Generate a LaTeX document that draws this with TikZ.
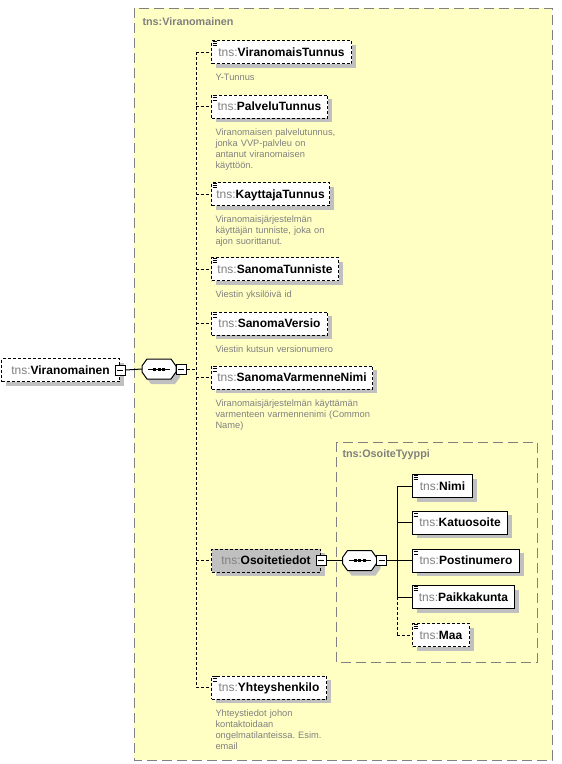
\documentclass[tikz,border=0pt]{standalone}
\usepackage{fontspec}
\setmainfont{Liberation Sans}
\usetikzlibrary{shadows}
\frenchspacing
\definecolor{boxyellow}{HTML}{FFFFC4}
\definecolor{tnsgray}{HTML}{808080}
\definecolor{descgray}{HTML}{808080}
\definecolor{shadowgray}{HTML}{C0C0C0}
\definecolor{framegray}{HTML}{808080}
\definecolor{complexfill}{HTML}{C0C0C0}
\newcommand{\tns}[1]{{\color{tnsgray}tns:}\textbf{#1}}
\newcommand{\seqnode}[3]{%
  \node[minimum width=34pt, minimum height=20pt, inner sep=0pt, outer sep=0pt] (#1) at (#2,#3) {};
  \begin{scope}[shift={(#2,#3)}]
    \fill[shadowgray, shift={(4,5)}] (-12,-10) -- (12,-10) -- (17,-3) -- (17,3) -- (12,10) -- (-12,10) -- (-17,3) -- (-17,-3) -- cycle;
    \draw[fill=white] (-12,-10) -- (12,-10) -- (17,-3) -- (17,3) -- (12,10) -- (-12,10) -- (-17,3) -- (-17,-3) -- cycle;
    \draw (-11,0) -- (11,0);
    \fill (-6,-1.5) rectangle (-3,1.5);
    \fill (-1.5,-1.5) rectangle (1.5,1.5);
    \fill (3,-1.5) rectangle (6,1.5);
  \end{scope}}
\newcommand{\elemicon}[1]{%
  \draw[line width=0.8pt] ([shift={(1.5pt,-1pt)}]#1.north west) -- ++(4.5,0);
  \draw[line width=0.8pt] ([shift={(1.5pt,-3.3pt)}]#1.north west) -- ++(4.5,0);
  \draw[line width=0.8pt] ([shift={(1.5pt,-5.6pt)}]#1.north west) -- ++(4.5,0);}
\begin{document}
\begin{tikzpicture}[x=1pt,y=-1pt, line width=1pt,
  elem/.style={draw=black, line width=1pt, fill=white, anchor=west, minimum height=23pt,
    inner sep=0pt, text height=9pt, text depth=1pt, font=\fontsize{12}{14}\selectfont,
    drop shadow={shadow xshift=4pt, shadow yshift=-4pt, fill=shadowgray, opacity=1}},
  optional/.style={dash pattern=on 3pt off 2pt},
  complex/.style={fill=complexfill},
  minus/.style={draw=black, line width=1pt, fill=white, minimum size=10pt, inner sep=0pt,
    path picture={\draw[line width=1pt] ([xshift=2pt]path picture bounding box.west) -- ([xshift=-2pt]path picture bounding box.east);}},
  conndash/.style={dash pattern=on 3pt off 2pt},
  desc/.style={anchor=base west, inner sep=0pt, align=left, text width=180pt,
    font=\fontsize{9.3}{11}\selectfont, text=descgray},
  typebox/.style={draw=framegray, line width=1pt, dash pattern=on 10pt off 5pt},
  typelabel/.style={anchor=base west, inner sep=0pt, text=tnsgray, font=\fontsize{10.8}{13}\selectfont\bfseries}
]
\useasboundingbox (0,0) rectangle (562,764);
% outer complex type box
\draw[typebox, fill=boxyellow] (134,8) rectangle (552,760);
\node[typelabel] (lblA) at (142,25) {tns:Viranomainen};
% inner complex type box
\draw[typebox] (336,442) rectangle (537,662);
\node[typelabel] (lblB) at (342,457) {tns:OsoiteTyyppi};

% root
\node[elem, optional, minimum width=118pt] (root) at (1,370) {\tns{Viranomainen}};
\node[minus] (rootm) at (root.east) {};
\seqnode{seqA}{159}{369}
\node[minus] (seqAm) at ([xshift=5pt]seqA.east) {};
\draw (rootm.east) -- (seqA.west);
\coordinate (spA) at (196,369);

% children
\node[elem, optional, minimum width=140pt] (c1) at (211,52) {\tns{ViranomaisTunnus}};
\node[elem, optional, minimum width=116pt] (c2) at (211,106.5) {\tns{PalveluTunnus}};
\node[elem, optional, minimum width=118pt] (c3) at (211,194) {\tns{KayttajaTunnus}};
\node[elem, optional, minimum width=127pt] (c4) at (211,269) {\tns{SanomaTunniste}};
\node[elem, optional, minimum width=116pt] (c5) at (211,323.5) {\tns{SanomaVersio}};
\node[elem, optional, minimum width=161pt] (c6) at (211,377.5) {\tns{SanomaVarmenneNimi}};
\node[elem, optional, complex, minimum width=109pt] (c7) at (211,560.5) {\tns{Osoitetiedot}};
\node[elem, optional, minimum width=115pt] (c8) at (211,687.5) {\tns{Yhteyshenkilo}};
\foreach \n in {c1,c2,c3,c4,c5,c6,c8} {\elemicon{\n}}

% descriptions
\node[desc] (d1) at (215,80.5) {Y-Tunnus};
\node[desc] (d2) at (215,135) {Viranomaisen palvelutunnus,\\jonka VVP-palvleu on\\antanut viranomaisen\\käyttöön.};
\node[desc] (d3) at (215,222.5) {Viranomaisjärjestelmän\\käyttäjän tunniste, joka on\\ajon suorittanut.};
\node[desc] (d4) at (215,297.5) {Viestin yksilöivä id};
\node[desc] (d5) at (215,352) {Viestin kutsun versionumero};
\node[desc] (d6) at (215,406) {Viranomaisjärjestelmän käyttämän\\varmenteen varmennenimi (Common\\Name)};
\node[desc] (d8) at (215,716) {Yhteystiedot johon\\kontaktoidaan\\ongelmatilanteissa. Esim.\\email};

% connectors of the first sequence
\draw[conndash] (seqAm.east) -- (spA);
\draw[conndash] (spA |- c1.west) -- (spA |- c8.west);
\foreach \n in {c1,c2,c3,c4,c5,c6,c7,c8} {\draw[conndash] (spA |- \n.west) -- (\n.west);}

% Osoitetiedot content
\node[minus] (c7m) at (c7.east) {};
\seqnode{seqB}{359.5}{560.5}
\node[minus] (seqBm) at ([xshift=5pt]seqB.east) {};
\draw (c7m.east) -- (seqB.west);
\coordinate (spB) at (397,560.5);
\draw (seqBm.east) -- (spB);

\node[elem, minimum width=60pt] (n1) at (412,486) {\tns{Nimi}};
\node[elem, minimum width=95pt] (n2) at (412,522.5) {\tns{Katuosoite}};
\node[elem, minimum width=107pt] (n3) at (412,560.5) {\tns{Postinumero}};
\node[elem, minimum width=102pt] (n4) at (412,597) {\tns{Paikkakunta}};
\node[elem, optional, minimum width=57pt] (n5) at (412,635) {\tns{Maa}};
\foreach \n in {n1,n2,n3,n4,n5} {\elemicon{\n}}

\draw (spB |- n1.west) -- (spB |- n4.west);
\draw[conndash] (spB |- n4.west) -- (spB |- n5.west);
\foreach \n in {n1,n2,n3,n4} {\draw (spB |- \n.west) -- (\n.west);}
\draw[conndash] (spB |- n5.west) -- (n5.west);
\end{tikzpicture}
\end{document}
